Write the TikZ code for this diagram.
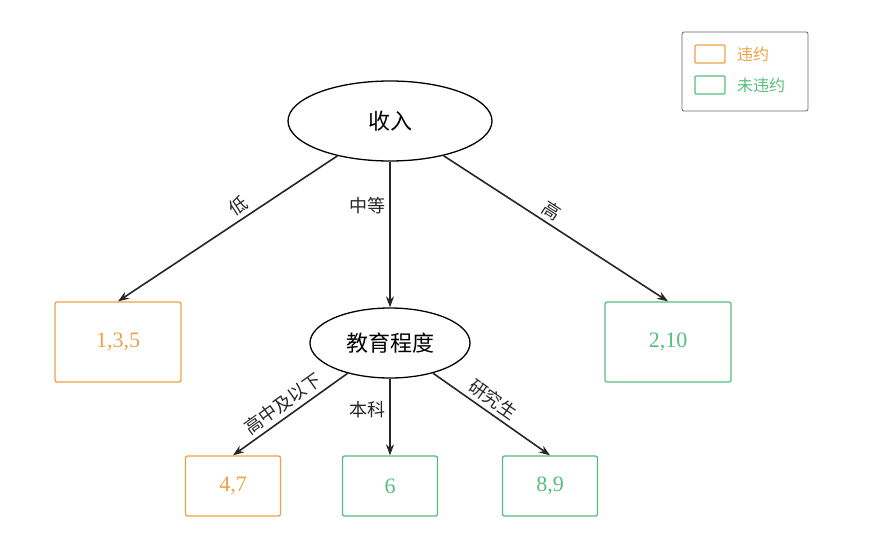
\documentclass[tikz,border=0pt]{standalone}
\usepackage{fontspec}
\newfontfamily\cjk{Noto Sans CJK SC}
\setmainfont{Liberation Serif}
\usetikzlibrary{shapes.geometric,arrows.meta}
\definecolor{org}{RGB}{238,160,70}
\definecolor{grn}{RGB}{85,190,125}
\begin{document}
\begin{tikzpicture}[x=1pt,y=-1pt,
  ell/.style={draw,ellipse,line width=1.3pt,font=\cjk\fontsize{22}{22}\selectfont},
  ob/.style={draw=org,line width=1.3pt,rounded corners=2pt,text=org,font=\fontsize{22}{22}\selectfont},
  gb/.style={draw=grn,line width=1.3pt,rounded corners=2pt,text=grn,font=\fontsize{22}{22}\selectfont},
  arr/.style={-{Stealth[length=11pt,width=8pt]},line width=1.6pt,black!85},
  lab/.style={font=\cjk\fontsize{18}{18}\selectfont,inner sep=4pt}]
\useasboundingbox (0,0) rectangle (875,557);
\node[ell,minimum width=204pt,minimum height=80pt] (r) at (390,121) {收入};
\node[ob,minimum width=126pt,minimum height=80pt] (b1) at (118,342) {1,3,5};
\node[gb,minimum width=126pt,minimum height=80pt] (b3) at (668,342) {2,10};
\node[ell,minimum width=160pt,minimum height=70pt] (e) at (390,343) {教育程度};
\node[ob,minimum width=95pt,minimum height=60pt] (c1) at (233,486) {4,7};
\node[gb,minimum width=95pt,minimum height=60pt] (c2) at (390,486) {6};
\node[gb,minimum width=95pt,minimum height=60pt] (c3) at (550,486) {8,9};
\draw[arr] (r) -- (b1.north) node[lab,pos=0.42,above,sloped] {低};
\draw[arr] (r) -- (b3.north) node[lab,pos=0.45,above,sloped] {高};
\draw[arr] (r.south) -- (e.north) node[lab,pos=0.3,left] (m) {中等};
\draw[arr] (e) -- (c1.north) node[lab,pos=0.5,above,sloped] {高中及以下};
\draw[arr] (e) -- (c3.north) node[lab,pos=0.45,above,sloped] {研究生};
\draw[arr] (e.south) -- (c2.north) node[lab,pos=0.4,left] {本科};
\node[draw=black!60,line width=0.8pt,rounded corners=2pt,minimum width=126pt,minimum height=79pt] (lg) at (745,71.5) {};
\node[draw=org,line width=1.2pt,rounded corners=1pt,minimum width=30pt,minimum height=18pt] (s1) at (710,54) {};
\node[draw=grn,line width=1.2pt,rounded corners=1pt,minimum width=30pt,minimum height=18pt] (s2) at (710,85) {};
\node[lab,text=org,anchor=west,font=\cjk\fontsize{16}{16}\selectfont] (t1) at (733,54) {违约};
\node[lab,text=grn,anchor=west,font=\cjk\fontsize{16}{16}\selectfont] (t2) at (733,85) {未违约};
\end{tikzpicture}
\end{document}
